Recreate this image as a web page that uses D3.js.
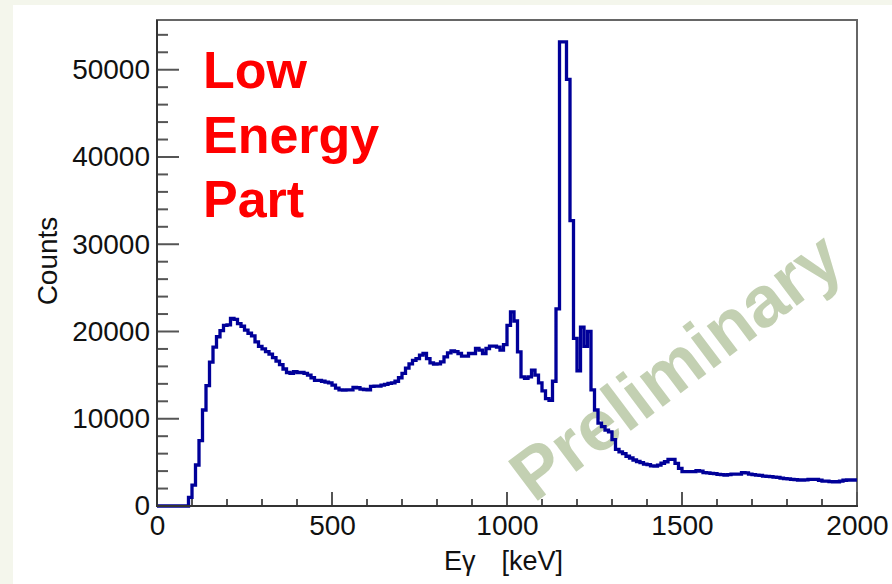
<!DOCTYPE html>
<html><head><meta charset="utf-8">
<script src="https://cdn.jsdelivr.net/npm/d3@7"></script>
<style>body{margin:0;background:#f4f6ec;} svg{display:block}</style>
</head><body><svg id="c" width="892" height="584"></svg>
<script>
// ---- data ----
const binWidth = 10; // keV per bin, first bin starts at 0 keV
const counts = [
  0,0,0,0,0,0,0,0,0,1000,
  2400,4700,7500,11000,13800,16500,18200,19400,20100,20700,
  20750,21500,21400,20900,20600,20150,19800,19500,18800,18300,
  18000,17700,17400,17000,16600,16200,15700,15300,15200,15400,
  15300,15300,15200,15000,14700,14400,14400,14300,14200,14100,
  13850,13500,13300,13280,13300,13300,13600,13550,13400,13350,
  13300,13700,13750,13750,13850,13950,14050,14100,14300,14700,
  15200,15800,16300,16700,16900,17300,17480,16900,16400,16260,
  16300,16520,17100,17560,17780,17700,17480,17170,17170,17480,
  17480,18050,17860,17480,18050,18320,18320,18200,17860,18500,
  20700,22250,21200,17670,14810,14620,14800,15570,15000,14100,
  13200,12300,12100,14300,22600,53200,53200,48900,32700,19200,
  15500,20500,18300,20000,13300,11000,9500,9100,8700,8500,
  7600,6500,6200,6000,5700,5500,5270,5100,4960,4800,
  4750,4600,4580,4690,4900,5070,5340,5340,4880,4310,
  3930,3930,3930,3950,4050,4000,3820,3800,3740,3700,
  3630,3600,3550,3600,3660,3660,3660,3820,3800,3660,
  3600,3550,3500,3430,3400,3360,3320,3280,3200,3130,
  3100,3050,3030,2980,2980,3000,3050,3050,3050,2950,
  2860,2860,2800,2780,2780,2860,2950,2980,2980,2980
];
const xMajorTicks = [0, 500, 1000, 1500, 2000];
const xMinorTicks = [100,200,300,400,600,700,800,900,1100,1200,1300,1400,1600,1700,1800,1900];
const yMajorTicks = [0, 10000, 20000, 30000, 40000, 50000];
const yMinorTicks = [2000,4000,6000,8000,12000,14000,16000,18000,22000,24000,26000,28000,
                     32000,34000,36000,38000,42000,44000,46000,48000,52000,54000];
const xDomain = [0, 2000];
const yDomain = [0, 55700];
const xTitle = "Eγ";
const xUnit = "[keV]";
const yTitle = "Counts";
const noteLines = ["Low", "Energy", "Part"];
const watermark = "Preliminary";

// ---- layout ----
const L = 157, R = 857, T = 20, B = 506;
const svg = d3.select("#c");
svg.append("rect").attr("x", 13).attr("y", 5).attr("width", 892 - 13).attr("height", 584 - 5).attr("fill", "#fff");

const x = d3.scaleLinear().domain(xDomain).range([L, R]);
const y = d3.scaleLinear().domain(yDomain).range([B, T]);

const font = "'Liberation Sans', Arial, Helvetica, sans-serif";

// frame
svg.append("rect").attr("x", L).attr("y", T).attr("width", R - L).attr("height", B - T)
  .attr("fill", "none").attr("stroke", "#666").attr("stroke-width", 2);

// watermark
svg.append("text")
  .attr("transform", "translate(675,365) rotate(-37)")
  .attr("text-anchor", "middle").attr("dy", "0.36em")
  .attr("font-family", font).attr("font-weight", "bold").attr("font-size", 72)
  .attr("fill", "#c3d0b2").text(watermark);

// ticks
const tickColor = "#555";
svg.append("g").selectAll("line").data(yMajorTicks).join("line")
  .attr("x1", L).attr("x2", L + 22).attr("y1", d => y(d)).attr("y2", d => y(d))
  .attr("stroke", tickColor).attr("stroke-width", 2);
svg.append("g").selectAll("line").data(yMinorTicks).join("line")
  .attr("x1", L).attr("x2", L + 11).attr("y1", d => y(d)).attr("y2", d => y(d))
  .attr("stroke", tickColor).attr("stroke-width", 2);
svg.append("g").selectAll("line").data(xMajorTicks).join("line")
  .attr("x1", d => x(d)).attr("x2", d => x(d)).attr("y1", B).attr("y2", B - 14)
  .attr("stroke", tickColor).attr("stroke-width", 2);
svg.append("g").selectAll("line").data(xMinorTicks).join("line")
  .attr("x1", d => x(d)).attr("x2", d => x(d)).attr("y1", B).attr("y2", B - 7)
  .attr("stroke", tickColor).attr("stroke-width", 2);

// histogram
const pts = counts.map((c, i) => [i * binWidth, c]);
pts.push([counts.length * binWidth, counts[counts.length - 1]]);
const line = d3.line().x(d => x(d[0])).y(d => y(d[1])).curve(d3.curveStepAfter);
svg.append("path").attr("d", line(pts)).attr("fill", "none")
  .attr("stroke", "#000099").attr("stroke-width", 3.3).attr("stroke-linejoin", "miter");

// axes labels
const yAxis = d3.axisLeft(y).tickValues(yMajorTicks).tickSize(0).tickPadding(7).tickFormat(d3.format("d"));
const gy = svg.append("g").attr("transform", `translate(${L},0)`).call(yAxis);
const xAxis = d3.axisBottom(x).tickValues(xMajorTicks).tickSize(0).tickPadding(9).tickFormat(d3.format("d"));
const gx = svg.append("g").attr("transform", `translate(0,${B})`).call(xAxis);
[gx, gy].forEach(g => {
  g.select(".domain").remove();
  g.selectAll("text").attr("font-family", font).attr("font-size", 28).attr("fill", "#111");
});
// axis lines
svg.append("line").attr("x1", L).attr("x2", L).attr("y1", T).attr("y2", B).attr("stroke", "#333").attr("stroke-width", 2);
svg.append("line").attr("x1", L - 1).attr("x2", R + 1).attr("y1", B).attr("y2", B).attr("stroke", "#333").attr("stroke-width", 2);

// axis titles
const xt = svg.append("text").attr("x", 563).attr("y", 570).attr("text-anchor", "end")
  .attr("font-family", font).attr("font-size", 27).attr("fill", "#111");
xt.append("tspan").text(xTitle);
xt.append("tspan").attr("dx", 26).text(xUnit);

svg.append("text").attr("transform", "translate(57,261) rotate(-90)").attr("text-anchor", "middle")
  .attr("font-family", font).attr("font-size", 28).attr("fill", "#111").text(yTitle);

// note
svg.append("g").selectAll("text").data(noteLines).join("text")
  .attr("x", 203).attr("y", (d, i) => 88 + i * 64.5)
  .attr("font-family", font).attr("font-weight", "bold").attr("font-size", 52)
  .attr("fill", "#ff0000").text(d => d);
</script></body></html>
